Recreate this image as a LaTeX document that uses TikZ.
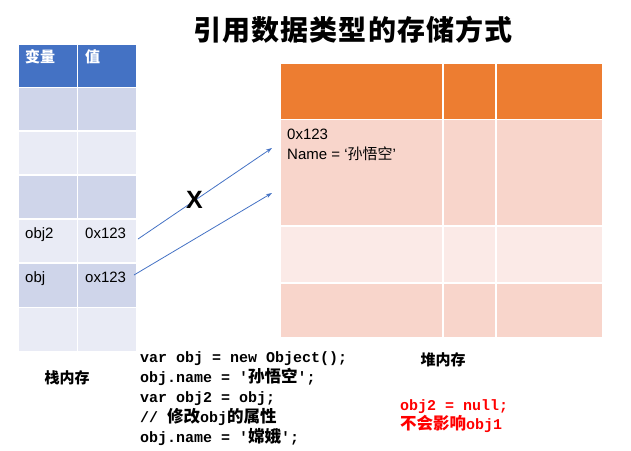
\documentclass[tikz,border=0pt]{standalone}
\usepackage{fontspec}
\setmainfont{Liberation Sans}
\setmonofont{Liberation Mono}
\newfontfamily\cjk{Noto Sans CJK SC}
\newfontfamily\cjkt{Noto Sans CJK SC}[LetterSpace=4]
\usetikzlibrary{arrows.meta}
\definecolor{hdrblue}{HTML}{4472C4}
\definecolor{bandA}{HTML}{CFD5EA}
\definecolor{bandB}{HTML}{E9EBF5}
\definecolor{hdrorange}{HTML}{ED7D31}
\definecolor{peachA}{HTML}{F8D5CB}
\definecolor{peachB}{HTML}{FBEAE7}
\definecolor{arrowblue}{HTML}{4472C4}
\definecolor{redtxt}{HTML}{FF0000}
\newcommand{\cc}[1]{{\fontsize{16.5}{17}\selectfont\cjk #1}}
\begin{document}
\begin{tikzpicture}[x=1pt,y=-1pt,
  cellbox/.style={draw=white,line width=1.5pt},
  lbl/.style={anchor=base west,inner sep=0pt,font=\fontsize{15}{17}\selectfont},
  hdr/.style={anchor=base west,inner sep=0pt,text=white,font=\fontsize{15}{17}\selectfont\cjk\bfseries},
  codeln/.style={anchor=base west,inner sep=0pt,font=\fontsize{15}{17}\selectfont\ttfamily\bfseries},
  redln/.style={codeln,text=redtxt},
  ptr/.style={draw=arrowblue,line width=0.8pt,-{Stealth[length=6pt,width=4pt]}}]
\useasboundingbox (0,0) rectangle (631,450);
% title
\node[inner sep=0pt] (title) at (353,30) {\fontsize{28}{30}\selectfont\cjkt\bfseries 引用数据类型的存储方式};
% stack table
\fill[hdrblue,cellbox] (18,44) rectangle (77.5,87.5);
\fill[hdrblue,cellbox] (77.5,44) rectangle (137,87.5);
\foreach \ya/\yb/\c in {87.5/131/bandA,131/175/bandB,175/219/bandA,219/263/bandB,263/307.5/bandA,307.5/352/bandB}{
  \fill[\c,cellbox] (18,\ya) rectangle (77.5,\yb);
  \fill[\c,cellbox] (77.5,\ya) rectangle (137,\yb);
}
\node[hdr] (h1) at (25,62) {变量};
\node[hdr] (h2) at (85,62) {值};
\node[lbl] (v1) at (25,238) {obj2};
\node[lbl] (a1) at (85,238) {0x123};
\node[lbl] (v2) at (25,282) {obj};
\node[lbl] (a2) at (85,282) {ox123};
% heap table
\foreach \xa/\xb in {280/443,443/496,496/603}{
  \fill[hdrorange,cellbox] (\xa,63) rectangle (\xb,119.5);
  \fill[peachA,cellbox] (\xa,119.5) rectangle (\xb,226);
  \fill[peachB,cellbox] (\xa,226) rectangle (\xb,283);
  \fill[peachA,cellbox] (\xa,283) rectangle (\xb,338);
}
\node[lbl] (addr) at (287,139) {0x123};
\node[lbl] (nm) at (287,159) {Name = ‘{\cjk 孙悟空}’};
% arrows
\coordinate (s1) at (138,239);
\coordinate (e1) at (272,148);
\coordinate (s2) at (134,275);
\coordinate (e2) at (272,193);
\draw[ptr] (s1) -- (e1);
\draw[ptr] (s2) -- (e2);
\node[anchor=base west,inner sep=0pt,font=\fontsize{25}{28}\selectfont\bfseries] (x) at (186,208) {X};
% labels
\node[inner sep=0pt,font=\fontsize{15}{17}\selectfont\cjk\bfseries] (stk) at (67,378) {栈内存};
\node[inner sep=0pt,font=\fontsize{15}{17}\selectfont\cjk\bfseries] (heap) at (443,360) {堆内存};
% code
\node[codeln] (c1) at (140,362) {var obj = new Object();};
\node[codeln] (c2) at (140,382) {obj.name = '\cc{孙悟空}';};
\node[codeln] (c3) at (140,402) {var obj2 = obj;};
\node[codeln] (c4) at (140,422) {// \cc{修改}obj\cc{的属性}};
\node[codeln] (c5) at (140,442) {obj.name = '\cc{嫦娥}';};
\node[redln] (r1) at (400,410) {obj2 = null;};
\node[redln] (r2) at (400,429) {\cc{不会影响}obj1};
\end{tikzpicture}
\end{document}
